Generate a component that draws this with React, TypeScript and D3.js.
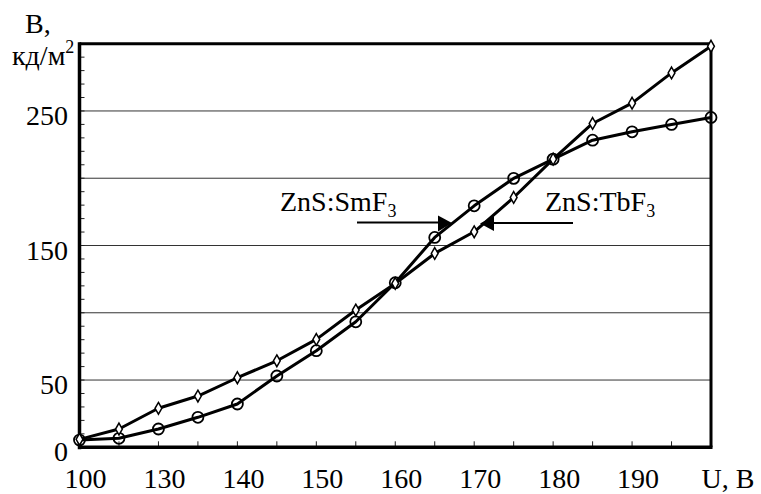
import React from "react";
import * as d3 from "d3";

// Напряжение, В (категории оси X)
const voltages = ["100", "125", "130", "135", "140", "145", "150", "155", "160", "165", "170", "175", "180", "185", "190", "195", "200"];
// Подписи оси X (через одну категорию, последняя — название оси)
const xTickLabels = ["100", "", "130", "", "140", "", "150", "", "160", "", "170", "", "180", "", "190", "", "U, B"];

// Яркость, кд/м2
const smValues = [5.4, 6.7, 13.6, 22.3, 32.2, 53, 71.8, 93.3, 122.3, 156, 179.5, 199.9, 214.2, 228.3, 234.5, 240, 245.2];
const tbValues = [5.9, 13.6, 29, 38.1, 51.7, 64.3, 80.2, 102, 121.8, 144.1, 160.2, 185.7, 214.2, 240.7, 255.8, 278.3, 298.1];

const gridValues = [50, 100, 150, 200, 250];
const yTickLabels = [0, 50, 150, 250];
const minorTicks = d3.range(10, 300, 10);

const W = 761;
const H = 494;
const FONT = '"Liberation Serif", "DejaVu Serif", serif';

export default function App() {
  const left = 79.5;
  const right = 711;
  const top = 43.7;
  const bottom = 447.3;

  const x = d3.scalePoint<string>().domain(voltages).range([left, right]);
  const y = d3.scaleLinear().domain([0, 300]).range([bottom, top]);

  const line = d3
    .line<number>()
    .x((_, i) => x(voltages[i]) as number)
    .y((d) => y(d));

  const diamond = d3.symbol().type(d3.symbolDiamond).size(40)();

  return (
    <div style={{ fontFamily: FONT }}>
      <svg width={W} height={H} style={{ position: "absolute", left: 0, top: 0, fontFamily: FONT }}>
        <rect width={W} height={H} fill="#fff" />

        {/* сетка */}
        {gridValues.map((v) => (
          <line key={v} x1={left} x2={right} y1={y(v)} y2={y(v)} stroke="#333" strokeWidth={1} />
        ))}

        {/* мелкие деления на оси Y */}
        {minorTicks.map((v) => (
          <line key={v} x1={left} x2={left + 5} y1={y(v)} y2={y(v)} stroke="#222" strokeWidth={1} />
        ))}

        {/* деления оси X */}
        {voltages.slice(1, -1).map((v) => (
          <line key={v} x1={x(v)} x2={x(v)} y1={bottom} y2={bottom - 6} stroke="#222" strokeWidth={1} />
        ))}

        {/* рамка */}
        <line x1={left} x2={right} y1={top} y2={top} stroke="#000" strokeWidth={3} />
        <line x1={right} x2={right} y1={top - 1.5} y2={bottom} stroke="#000" strokeWidth={3} />
        <line x1={left} x2={left} y1={top - 1.5} y2={bottom + 2} stroke="#000" strokeWidth={3.5} />
        <line x1={left - 1.5} x2={right + 1.5} y1={bottom} y2={bottom} stroke="#000" strokeWidth={3.5} />

        {/* кривые */}
        <path d={line(smValues) ?? ""} fill="none" stroke="#000" strokeWidth={3} strokeLinejoin="round" />
        <path d={line(tbValues) ?? ""} fill="none" stroke="#000" strokeWidth={3} strokeLinejoin="round" />

        {smValues.map((v, i) => (
          <circle key={i} cx={x(voltages[i])} cy={y(v)} r={5.5} fill="none" stroke="#000" strokeWidth={1.8} />
        ))}
        {tbValues.map((v, i) => (
          <path
            key={i}
            d={diamond ?? ""}
            transform={`translate(${x(voltages[i])},${y(v)})`}
            fill="#fff"
            stroke="#000"
            strokeWidth={1.5}
          />
        ))}

        {/* подписи оси Y */}
        {yTickLabels.map((v) => (
          <text key={v} x={68} y={y(v) + 14} textAnchor="end" fontSize={28} fill="#000">
            {v}
          </text>
        ))}

        {/* подписи оси X */}
        {xTickLabels.map((t, i) =>
          t ? (
            <text
              key={i}
              x={(x(voltages[i]) as number) + (i === voltages.length - 1 ? 17 : 6)}
              y={488}
              textAnchor="middle"
              fontSize={28}
              fill="#000"
            >
              {t}
            </text>
          ) : null
        )}

        {/* название оси Y */}
        <text x={25} y={33} fontSize={28} fill="#000">B,</text>
        <text x={12} y={65} fontSize={28} fill="#000">
          кд/м<tspan fontSize={18} dy={-12}>2</tspan>
        </text>

        {/* аннотации */}
        <text x={280} y={211} fontSize={28} fill="#000">
          ZnS:SmF<tspan fontSize={18} dy={6}>3</tspan>
        </text>
        <line x1={357} x2={440} y1={222.5} y2={222.5} stroke="#000" strokeWidth={2} />
        <path d="M438,215.5 L452,223 L438,231.5 Z" fill="#000" />

        <text x={545} y={211} fontSize={28} fill="#000">
          ZnS:TbF<tspan fontSize={18} dy={6}>3</tspan>
        </text>
        <line x1={492} x2={573} y1={223} y2={223} stroke="#000" strokeWidth={2} />
        <path d="M494,216 L480,223.5 L494,231 Z" fill="#000" />
      </svg>
    </div>
  );
}
